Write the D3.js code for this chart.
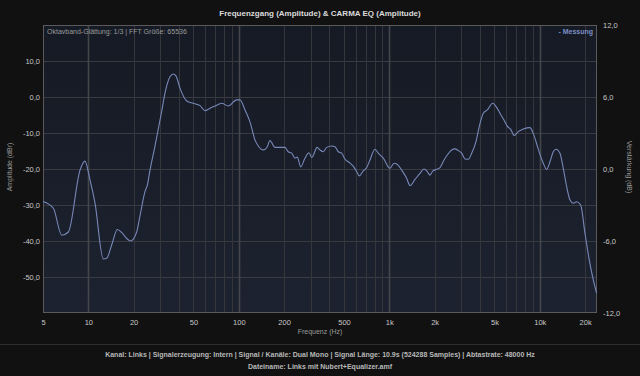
<!DOCTYPE html>
<html>
<head>
<meta charset="utf-8">
<script src="https://cdn.jsdelivr.net/npm/d3@7"></script>
<style>
  body { margin: 0; background: #111111; }
  svg { display: block; font-family: "Liberation Sans", Arial, sans-serif; }
</style>
</head>
<body>
<svg width="640" height="376"></svg>
<script>
// Messdaten (Frequenz in Hz, Pegel in dBr)
const frequencies = [5.0, 5.86, 6.66, 7.37, 8.81, 9.5, 10.27, 11.08, 12.58, 13.25, 14.3, 15.6, 16.7, 18.0, 19.1, 19.9,
  21.0, 22.1, 23.8, 24.7, 25.7, 27.7, 30.7, 32.3, 34.9, 36.7, 38.3, 40.7, 45.1, 49.8, 55.3, 59.6, 64.4, 69.5, 77, 85.1,
  96.8, 101.8, 110, 118.7, 128, 134.8, 145.5, 154.7, 161, 174, 202.7, 213, 224.7, 236, 244.7, 257.8, 275, 292.7, 305,
  332, 346, 364, 384, 414, 436, 458, 483, 508, 542, 576, 607, 632, 672, 708, 744, 803, 845, 912, 1010, 1075, 1120,
  1209, 1305, 1372, 1482, 1600, 1700, 1788, 1864, 1943, 2065, 2172, 2310, 2429, 2597, 2732, 2874, 3027, 3184, 3348,
  3527, 3768, 3962, 4213, 4480, 4864, 5170, 5438, 5783, 6081, 6408, 6768, 7194, 7768, 8609, 9050, 9774, 10548, 11113,
  11688, 12293, 12813, 13621, 14325, 15090, 15873, 16693, 17587, 18700, 19975, 21327, 22675, 23875];

const messung = [-29.0, -30.9, -38.4, -37.5, -20.3, -17.8, -23.1, -29.5, -45.0, -44.8, -41.1, -36.8, -37.7, -39.3, -40.0, -39.5,
  -37.4, -32.8, -26.3, -24.4, -20.3, -13.8, -4.1, 1.0, 5.6, 6.4, 5.8, 2.4, -1.1, -1.75, -2.4, -3.8, -3.1, -2.5, -1.75, -2.5,
  -0.8, -0.8, -3.6, -6.9, -11.9, -13.6, -14.7, -13.8, -12.1, -14.0, -14.0, -15.2, -15.6, -17.0, -16.7, -19.4, -17.0, -15.5, -16.8,
  -14.0, -14.7, -15.2, -14.0, -13.6, -13.8, -15.2, -15.6, -17.3, -18.2, -19.2, -20.7, -21.9, -20.5, -19.6, -17.5, -14.5, -15.6, -17.0, -19.8, -18.4, -18.6,
  -20.3, -22.6, -24.6, -22.9, -21.2, -20.0, -20.7, -21.7, -20.6, -20.1, -19.6, -17.5, -16.1, -14.7, -14.4, -14.9, -15.6, -17.2, -17.3,
  -15.6, -12.4, -8.2, -4.5, -3.6, -1.75, -2.9, -4.5, -6.4, -8.1, -9.0, -10.7, -9.6, -8.9, -8.5, -10.1, -14.5, -18.4, -20.1,
  -18.0, -15.2, -14.5, -15.6, -19.8, -24.9, -28.6, -29.5, -29.1, -30.0, -37.9, -45.3, -50.8, -54.5];

const xTicks = [5, 10, 20, 50, 100, 200, 500, 1000, 2000, 5000, 10000, 20000];
const xTickLabels = ['5', '10', '20', '50', '100', '200', '500', '1k', '2k', '5k', '10k', '20k'];
const leftTicks = [10, 0, -10, -20, -30, -40, -50];
const rightTicks = [12, 6, 0, -6, -12];

const title = 'Frequenzgang (Amplitude) & CARMA EQ (Amplitude)';
const info = 'Oktavband-Glättung: 1/3 | FFT Größe: 65536';
const footer1 = 'Kanal: Links  |  Signalerzeugung: Intern  |  Signal / Kanäle: Dual Mono  |  Signal Länge: 10.9s (524288 Samples)  |  Abtastrate: 48000 Hz';
const footer2 = 'Dateiname: Links mit Nubert+Equalizer.amf';

// Hauptcode
const svg = d3.select('svg');
const width = +svg.attr('width');
const height = +svg.attr('height');
const margin = {top: 25, right: 43, bottom: 63, left: 43};
const plotW = width - margin.left - margin.right;
const plotH = height - margin.top - margin.bottom;

const de = d3.formatLocale({decimal: ',', thousands: '.', grouping: [3], currency: ['', ' €'], minus: '-'});
const fmt = de.format('.1f');

const x = d3.scaleLog().domain([5, 24000]).range([margin.left, margin.left + plotW]);
const yLeft = d3.scaleLinear().domain([-60, 20]).range([margin.top + plotH, margin.top]);
const yRight = d3.scaleLinear().domain([-12, 12]).range([margin.top + plotH, margin.top]);

const defs = svg.append('defs');
const grad = defs.append('linearGradient').attr('id', 'bg').attr('x1', 0).attr('y1', 0).attr('x2', 0).attr('y2', 1);
grad.append('stop').attr('offset', '0%').attr('stop-color', '#151a24');
grad.append('stop').attr('offset', '100%').attr('stop-color', '#1d2230');

svg.append('rect').attr('width', width).attr('height', height).attr('fill', '#111111');

svg.append('rect')
  .attr('x', margin.left).attr('y', margin.top)
  .attr('width', plotW).attr('height', plotH)
  .attr('fill', 'url(#bg)');

// Gitter
const g = svg.append('g');
const gridFreqs = [];
for (let dec = 10; dec <= 10000; dec *= 10) {
  for (let m = 1; m <= 9; m++) {
    if (dec * m <= 20000) gridFreqs.push(dec * m);
  }
}
gridFreqs.push(20000);

g.selectAll('.hgrid')
  .data(leftTicks)
  .enter().append('line')
  .attr('class', 'hgrid')
  .attr('x1', margin.left).attr('x2', margin.left + plotW)
  .attr('y1', d => Math.round(yLeft(d)) + 0.5)
  .attr('y2', d => Math.round(yLeft(d)) + 0.5)
  .attr('stroke', '#3a3b40').attr('stroke-width', 1);

g.selectAll('.vgrid')
  .data(gridFreqs)
  .enter().append('line')
  .attr('class', 'vgrid')
  .attr('x1', d => Math.round(x(d)) + 0.5)
  .attr('x2', d => Math.round(x(d)) + 0.5)
  .attr('y1', margin.top).attr('y2', margin.top + plotH)
  .attr('stroke', d => Number.isInteger(Math.log10(d)) ? '#45464a' : '#35363b')
  .attr('stroke-width', d => Number.isInteger(Math.log10(d)) ? 1.6 : 1);

// Rahmen
svg.append('rect')
  .attr('x', margin.left + 0.5).attr('y', margin.top + 0.5)
  .attr('width', plotW - 1).attr('height', plotH - 1)
  .attr('fill', 'none').attr('stroke', '#5a5a5c').attr('stroke-width', 1);

// Kurve
const points = frequencies.map((f, i) => ({f, v: messung[i]}));
const line = d3.line()
  .x(d => x(d.f))
  .y(d => yLeft(d.v))
  .curve(d3.curveMonotoneX);

svg.append('path')
  .datum(points)
  .attr('d', line)
  .attr('fill', 'none')
  .attr('stroke', '#7888b8')
  .attr('stroke-width', 1.1);

// Achsen
const xAxis = svg.append('g')
  .attr('transform', `translate(0,${margin.top + plotH})`)
  .call(d3.axisBottom(x).tickValues(xTicks).tickFormat((d, i) => xTickLabels[i]).tickSize(0).tickPadding(7));

const leftAxis = svg.append('g')
  .attr('transform', `translate(${margin.left},0)`)
  .call(d3.axisLeft(yLeft).tickValues(leftTicks).tickFormat(fmt).tickSize(0).tickPadding(3));

const rightAxis = svg.append('g')
  .attr('transform', `translate(${margin.left + plotW},0)`)
  .call(d3.axisRight(yRight).tickValues(rightTicks).tickFormat(fmt).tickSize(0).tickPadding(6));

[xAxis, leftAxis, rightAxis].forEach(a => {
  a.select('.domain').remove();
  a.selectAll('text')
    .attr('fill', '#c8c8c8')
    .style('font-size', '7.5px')
    .style('font-family', '"Liberation Sans", Arial, sans-serif');
});

// Texte
svg.append('text')
  .attr('x', width / 2).attr('y', 16)
  .attr('text-anchor', 'middle')
  .attr('fill', '#dcdcdc')
  .style('font-size', '8px').style('font-weight', 'bold')
  .text(title);

svg.append('text')
  .attr('x', margin.left + 4).attr('y', 34)
  .attr('fill', '#9a9a9a')
  .style('font-size', '7px')
  .text(info);

svg.append('text')
  .attr('x', margin.left + plotW - 4).attr('y', 34)
  .attr('text-anchor', 'end')
  .attr('fill', '#7d8fc4')
  .style('font-size', '7px').style('font-weight', 'bold')
  .text('- Messung');

svg.append('text')
  .attr('transform', `translate(12,${margin.top + plotH / 2 - 2}) rotate(-90)`)
  .attr('text-anchor', 'middle')
  .attr('fill', '#9a9a9a')
  .style('font-size', '7px')
  .text('Amplitude (dBr)');

svg.append('text')
  .attr('transform', `translate(627,${margin.top + plotH / 2 - 2}) rotate(90)`)
  .attr('text-anchor', 'middle')
  .attr('fill', '#9a9a9a')
  .style('font-size', '7px')
  .text('Verstärkung (dB)');

svg.append('text')
  .attr('x', width / 2).attr('y', 334)
  .attr('text-anchor', 'middle')
  .attr('fill', '#9a9a9a')
  .style('font-size', '7px')
  .text('Frequenz (Hz)');

svg.append('line')
  .attr('x1', 0).attr('x2', width)
  .attr('y1', 344.5).attr('y2', 344.5)
  .attr('stroke', '#2e2e2e');

svg.append('text')
  .attr('x', width / 2).attr('y', 357)
  .attr('text-anchor', 'middle')
  .attr('fill', '#b8b8b8')
  .style('font-size', '7px').style('font-weight', 'bold')
  .text(footer1);

svg.append('text')
  .attr('x', width / 2).attr('y', 369)
  .attr('text-anchor', 'middle')
  .attr('fill', '#b8b8b8')
  .style('font-size', '7px').style('font-weight', 'bold')
  .text(footer2);
</script>
</body>
</html>
